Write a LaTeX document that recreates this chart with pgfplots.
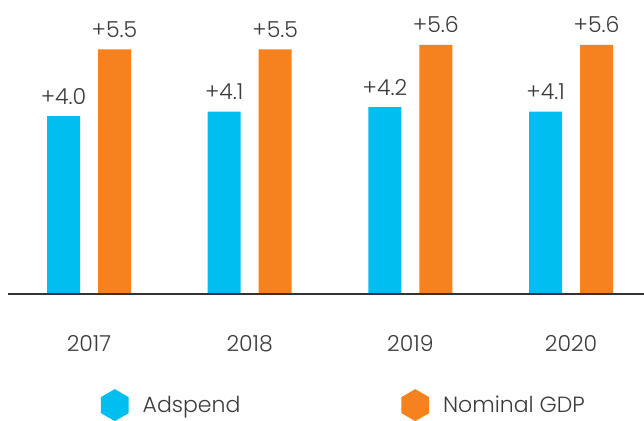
\documentclass[border=0pt]{standalone}
\usepackage{pgfplots}
\pgfplotsset{compat=1.18}
\usetikzlibrary{shapes.geometric}
\usepackage{fontspec}
\setmainfont{Poppins}[UprightFont=* Light]
\definecolor{cblue}{HTML}{00BEF0}
\definecolor{corange}{HTML}{F5821F}
\definecolor{ctext}{HTML}{3A3A3A}
\definecolor{caxis}{HTML}{333333}
\newcommand{\fs}{\fontsize{22pt}{26pt}\selectfont}
\begin{document}
\begin{tikzpicture}
\begin{axis}[
  at={(8pt,126pt)}, anchor=south west,
  scale only axis, width=636pt, height=294pt,
  xmin=-0.5041, xmax=3.454, ymin=0, ymax=6.607,
  ybar=18pt, bar width=33pt,
  axis x line=bottom, axis y line=none,
  x axis line style={-, line width=2.6pt, draw=caxis},
  axis on top,
  xtick={0,1,2,3}, xticklabels={2017,2018,2019,2020},
  major tick length=0pt,
  /pgf/number format/assume math mode=true,
  xticklabel style={anchor=center, yshift=-49.5pt, font=\fs, text=ctext},
  clip=false,
  nodes near coords={+\pgfmathprintnumber[fixed,fixed zerofill,precision=1]{\pgfplotspointmeta}},
  every node near coord/.append style={anchor=base, yshift=12pt, inner sep=0pt, font=\fs, text=ctext},
  legend image code/.code={\node[regular polygon, regular polygon sides=6, shape border rotate=30, fill, draw=none, minimum size=32pt, inner sep=0pt] at (0pt,0pt) {};},
  legend style={draw=none, fill=none, inner sep=0pt, outer sep=0pt, legend columns=2,
    at={(axis description cs:0.1462,-0.378)}, anchor=west, font=\fs, text=ctext,
    /tikz/every odd column/.append style={column sep=12pt},
    /tikz/every even column/.append style={column sep=159pt}},
  legend cell align=left,
]
\addplot[fill=cblue, draw=none] coordinates {(0,4.0) (1,4.1) (2,4.2) (3,4.1)};
\addplot[fill=corange, draw=none] coordinates {(0,5.5) (1,5.5) (2,5.6) (3,5.6)};
\legend{Adspend, Nominal GDP}
\end{axis}
\pgfresetboundingbox
\path[use as bounding box] (0,0) rectangle (644pt,420pt);
\end{tikzpicture}
\end{document}
